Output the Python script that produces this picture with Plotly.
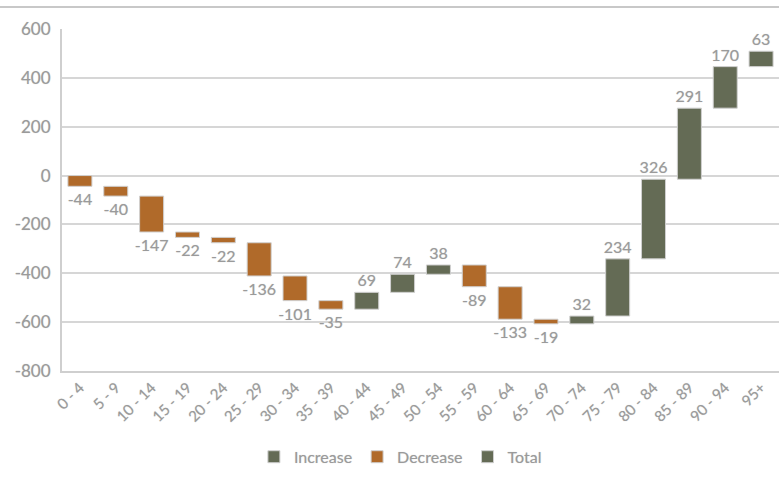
import plotly.graph_objects as go

# Age groups and the change in each group
categories = ["0 - 4", "5 - 9", "10 - 14", "15 - 19", "20 - 24", "25 - 29",
              "30 - 34", "35 - 39", "40 - 44", "45 - 49", "50 - 54", "55 - 59",
              "60 - 64", "65 - 69", "70 - 74", "75 - 79", "80 - 84", "85 - 89",
              "90 - 94", "95+"]
changes = [-44, -40, -147, -22, -22, -136, -101, -35, 69, 74, 38, -89,
           -133, -19, 32, 234, 326, 291, 170, 63]
y_ticks = [600, 400, 200, 0, -200, -400, -600, -800]
y_tick_text = ["600", "400", "200", "0", "-200", "-400", "-600", "-800"]

INC_COLOR = "#646b55"
DEC_COLOR = "#b06a2a"
TEXT_COLOR = "#9a9a9a"
FONT = "Lato, 'DejaVu Sans', sans-serif"
SHADOW = "0px 0px 1px #c8c8c8"

# running base for each floating bar
bases = []
running = 0
for v in changes:
    bases.append(running)
    running += v

inc_x = [c for c, v in zip(categories, changes) if v >= 0]
inc_y = [v for v in changes if v >= 0]
inc_b = [b for b, v in zip(bases, changes) if v >= 0]
dec_x = [c for c, v in zip(categories, changes) if v < 0]
dec_y = [v for v in changes if v < 0]
dec_b = [b for b, v in zip(bases, changes) if v < 0]

label_font = dict(family=FONT, size=16, color=TEXT_COLOR, shadow=SHADOW)

fig = go.Figure()
fig.add_trace(go.Bar(
    name="Increase", x=inc_x, y=inc_y, base=inc_b,
    marker=dict(color=INC_COLOR, line=dict(color="#d0d0d0", width=1)),
    text=[str(v) for v in inc_y], textposition="outside",
    textfont=label_font, cliponaxis=False, constraintext="none",
))
fig.add_trace(go.Bar(
    name="Decrease", x=dec_x, y=dec_y, base=dec_b,
    marker=dict(color=DEC_COLOR, line=dict(color="#d0d0d0", width=1)),
    text=[str(v) for v in dec_y], textposition="outside",
    textfont=label_font, cliponaxis=False, constraintext="none",
))
fig.add_trace(go.Bar(
    name="Total", x=[categories[0]], y=[None],
    marker=dict(color=INC_COLOR, line=dict(color="#d0d0d0", width=1)),
))

fig.update_layout(
    width=779, height=487,
    margin=dict(l=62, r=0, t=29, b=116),
    paper_bgcolor="white", plot_bgcolor="white",
    barmode="overlay", bargap=0.33,
    font=dict(family=FONT, size=15, color=TEXT_COLOR),
    showlegend=True,
    legend=dict(orientation="h", xref="container", yref="container",
                x=0.514, xanchor="center", y=0.062, yanchor="middle",
                font=dict(family=FONT, size=16, color=TEXT_COLOR,
                          shadow=SHADOW),
                itemwidth=30, traceorder="normal"),
    shapes=[dict(type="line", xref="paper", yref="paper",
                 x0=-62 / 717, x1=1.0, y0=1.064, y1=1.064,
                 line=dict(color="#c8c8c8", width=2))],
)
fig.update_xaxes(
    type="category", categoryorder="array", categoryarray=categories,
    tickangle=-45, showgrid=False, showline=True, linecolor="#cfcfcf",
    linewidth=2, ticks="",
    tickfont=dict(family=FONT, size=15, color=TEXT_COLOR, shadow=SHADOW),
)
fig.update_yaxes(
    range=[-800, 600], tickvals=y_ticks, ticktext=y_tick_text,
    showgrid=True, gridcolor="#d6d6d6", gridwidth=2, zeroline=False,
    showline=True, linecolor="#cfcfcf", linewidth=2, ticks="",
    ticklabelstandoff=6,
    tickfont=dict(family=FONT, size=17, color=TEXT_COLOR, shadow=SHADOW),
)

fig.write_html("out.html")
